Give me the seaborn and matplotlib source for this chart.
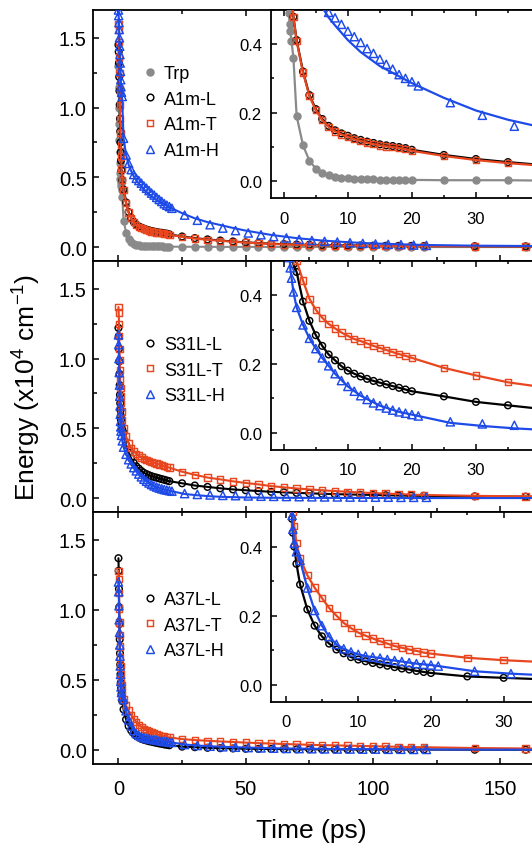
import matplotlib
matplotlib.use("Agg")
import matplotlib.pyplot as plt
import seaborn as sns
from matplotlib.lines import Line2D
from matplotlib.ticker import MultipleLocator

# ---------------- data ----------------
# time grid of the L / T / Trp series (ps)
T = [0.0, 0.1, 0.2, 0.3, 0.4, 0.5, 0.6, 0.7, 0.8, 0.9, 1.0, 1.2, 1.5,
     2, 3, 4, 5, 6, 7, 8, 9, 10, 11, 12, 13, 14, 15, 16, 17, 18, 19, 20,
     25, 30, 35, 40, 45, 50, 55, 60, 65, 70, 75, 80, 85, 90, 95, 100,
     105, 110, 115, 120, 140, 160]
# time grid of the H series (ps)
TH = [0.0, 0.1, 0.2, 0.3, 0.4, 0.5, 0.6, 0.7, 0.8, 0.9, 1.0, 1.2, 1.5,
      2, 3, 4, 5, 6, 7, 8, 9, 10, 11, 12, 13, 14, 15, 16, 17, 18, 19, 20, 21,
      26, 31, 36, 41, 46, 51, 56, 61, 66, 71, 76, 81, 86, 91, 96, 101,
      106, 111, 116, 121]
T_TAIL = [175]
TH_TAIL = [140, 175]

trp = [1.30, 1.15, 1.00, 0.88, 0.77, 0.68, 0.60, 0.53, 0.49, 0.46, 0.44, 0.41, 0.36,
       0.190, 0.104, 0.059, 0.036, 0.024, 0.017, 0.012, 0.009, 0.008, 0.007, 0.006,
       0.005, 0.005, 0.004, 0.004, 0.004, 0.003, 0.003, 0.003,
       0.002, 0.002, 0.002, 0.001, 0.001, 0.001, 0.001, 0.001, 0.001, 0.001, 0.001,
       0.001, 0.001, 0.001, 0.001, 0.0, 0.0, 0.0, 0.0, 0.0, 0.0, 0.0]
trp_tail = [0.0]

a1m_l = [1.45, 1.40, 1.32, 1.22, 1.12, 1.02, 0.92, 0.83, 0.75, 0.68, 0.62, 0.55, 0.48,
         0.412, 0.320, 0.251, 0.210, 0.181, 0.161, 0.148, 0.139, 0.132, 0.125, 0.120,
         0.115, 0.111, 0.107, 0.104, 0.102, 0.099, 0.096, 0.091,
         0.076, 0.064, 0.055, 0.047, 0.040, 0.034, 0.029, 0.024, 0.021, 0.018, 0.016,
         0.014, 0.013, 0.012, 0.011, 0.010, 0.009, 0.008, 0.008, 0.007, 0.006, 0.005]
a1m_l_tail = [0.004]

a1m_t = [1.60, 1.56, 1.47, 1.36, 1.25, 1.13, 1.02, 0.92, 0.82, 0.73, 0.65, 0.56, 0.48,
         0.409, 0.317, 0.248, 0.207, 0.178, 0.158, 0.145, 0.136, 0.129, 0.122, 0.117,
         0.112, 0.108, 0.104, 0.101, 0.099, 0.096, 0.093, 0.088,
         0.073, 0.061, 0.052, 0.045, 0.038, 0.032, 0.027, 0.022, 0.019, 0.016, 0.014,
         0.012, 0.011, 0.010, 0.009, 0.008, 0.007, 0.007, 0.006, 0.006, 0.005, 0.004]
a1m_t_tail = [0.0035]

a1m_h = [1.70, 1.66, 1.61, 1.56, 1.50, 1.44, 1.38, 1.32, 1.26, 1.20, 1.15, 1.11, 1.08,
         0.78, 0.66, 0.60, 0.555, 0.52, 0.493, 0.477, 0.458, 0.438, 0.422, 0.405,
         0.387, 0.373, 0.356, 0.341, 0.327, 0.311, 0.300, 0.290, 0.278,
         0.229, 0.192, 0.160, 0.136, 0.118, 0.101, 0.088, 0.075, 0.065, 0.055, 0.047,
         0.041, 0.036, 0.031, 0.026, 0.022, 0.019, 0.017, 0.014, 0.012]
# fitted curve of A1m-H
fit_a1m_h_t = [0.0, 0.5, 1.0, 1.5, 2, 3, 4, 5, 6, 7, 8, 10, 12, 15, 20, 25, 30, 35,
               40, 45, 50, 60, 70, 80, 90, 100, 120, 140, 175]
fit_a1m_h = [1.70, 1.44, 1.15, 1.05, 0.78, 0.66, 0.59, 0.545, 0.508, 0.478, 0.455,
             0.412, 0.377, 0.336, 0.286, 0.243, 0.206, 0.179, 0.158, 0.137, 0.118,
             0.087, 0.064, 0.047, 0.035, 0.026, 0.015, 0.010, 0.006]

s31l_l = [1.22, 1.16, 1.07, 0.98, 0.89, 0.81, 0.74, 0.68, 0.63, 0.59, 0.56, 0.52, 0.49,
          0.468, 0.382, 0.326, 0.284, 0.253, 0.228, 0.211, 0.194, 0.181, 0.172, 0.164,
          0.157, 0.151, 0.146, 0.141, 0.136, 0.131, 0.126, 0.121,
          0.106, 0.090, 0.080, 0.070, 0.062, 0.056, 0.050, 0.045, 0.041, 0.037, 0.034,
          0.031, 0.028, 0.026, 0.024, 0.022, 0.020, 0.018, 0.017, 0.016, 0.012, 0.010]
s31l_l_tail = [0.008]

s31l_t = [1.37, 1.33, 1.25, 1.16, 1.07, 0.99, 0.92, 0.85, 0.79, 0.73, 0.68, 0.62, 0.56,
          0.500, 0.443, 0.390, 0.358, 0.335, 0.317, 0.304, 0.292, 0.282, 0.273, 0.267,
          0.260, 0.253, 0.247, 0.241, 0.235, 0.229, 0.224, 0.218,
          0.189, 0.167, 0.147, 0.134, 0.120, 0.108, 0.098, 0.086, 0.077, 0.069, 0.062,
          0.056, 0.050, 0.045, 0.040, 0.036, 0.032, 0.029, 0.025, 0.022, 0.016, 0.012]
s31l_t_tail = [0.010]

s31l_h = [1.17, 1.10, 1.00, 0.90, 0.81, 0.73, 0.66, 0.60, 0.55, 0.51, 0.48, 0.45, 0.41,
          0.365, 0.314, 0.275, 0.245, 0.218, 0.195, 0.172, 0.152, 0.135, 0.121, 0.108,
          0.097, 0.087, 0.079, 0.072, 0.066, 0.061, 0.057, 0.053, 0.049,
          0.032, 0.026, 0.022, 0.019, 0.017, 0.015, 0.013, 0.012, 0.011, 0.010, 0.009,
          0.008, 0.008, 0.007, 0.007, 0.006, 0.006, 0.005, 0.005, 0.005]
# fitted curve of S31L-H
fit_s31l_h_t = [0.0, 0.5, 1.0, 1.5, 2, 3, 4, 5, 6, 8, 10, 12, 15, 18, 21, 26, 31, 36,
                40, 50, 60, 80, 120, 175]
fit_s31l_h = [1.17, 0.73, 0.48, 0.41, 0.365, 0.314, 0.275, 0.245, 0.218, 0.172, 0.135,
              0.108, 0.079, 0.061, 0.049, 0.029, 0.020, 0.013, 0.009, 0.004, 0.002,
              0.001, 0.0, 0.0]

a37l_l = [1.37, 1.28, 1.15, 1.02, 0.90, 0.79, 0.69, 0.61, 0.54, 0.48, 0.44, 0.40, 0.35,
          0.290, 0.218, 0.171, 0.140, 0.119, 0.102, 0.091, 0.080, 0.073, 0.068, 0.063,
          0.059, 0.055, 0.051, 0.047, 0.044, 0.040, 0.037, 0.034,
          0.024, 0.020, 0.016, 0.013, 0.011, 0.009, 0.008, 0.007, 0.006, 0.005, 0.005,
          0.004, 0.004, 0.004, 0.003, 0.003, 0.003, 0.003, 0.003, 0.003, 0.002, 0.002]
a37l_l_tail = [0.002]

a37l_t = [1.28, 1.22, 1.12, 1.01, 0.91, 0.82, 0.74, 0.66, 0.60, 0.54, 0.50, 0.46, 0.41,
          0.366, 0.317, 0.281, 0.251, 0.222, 0.200, 0.179, 0.164, 0.151, 0.142, 0.134,
          0.126, 0.119, 0.112, 0.107, 0.102, 0.098, 0.093, 0.090,
          0.078, 0.071, 0.066, 0.061, 0.057, 0.053, 0.049, 0.046, 0.043, 0.040, 0.037,
          0.035, 0.033, 0.031, 0.029, 0.027, 0.025, 0.023, 0.021, 0.020, 0.014, 0.011]
a37l_t_tail = [0.009]

a37l_h = [1.20, 1.13, 1.03, 0.93, 0.84, 0.75, 0.67, 0.60, 0.54, 0.49, 0.45, 0.41, 0.385,
          0.360, 0.280, 0.215, 0.171, 0.139, 0.117, 0.104, 0.095, 0.088, 0.083, 0.080,
          0.077, 0.073, 0.070, 0.067, 0.064, 0.061, 0.059, 0.057, 0.054,
          0.039, 0.032, 0.027, 0.023, 0.020, 0.017, 0.015, 0.013, 0.011, 0.010, 0.009,
          0.008, 0.007, 0.007, 0.006, 0.006, 0.005, 0.005, 0.004, 0.004]
a37l_h_tail = [0.003, 0.002]

labels1 = ["Trp", "A1m-L", "A1m-T", "A1m-H"]
labels2 = ["S31L-L", "S31L-T", "S31L-H"]
labels3 = ["A37L-L", "A37L-T", "A37L-H"]

y_ticks = [0.0, 0.5, 1.0, 1.5]
x_ticks = [0, 50, 100, 150]
inset_y_ticks = [0.0, 0.2, 0.4]
inset_x_ticks = [0, 10, 20, 30]

# ---------------- style ----------------
GRAY = "#8a8a8a"
BLACK = "#000000"
RED = "#e8461e"
BLUE = "#1e4be8"

STYLES = {
    "trp": dict(marker="o", fc=GRAY, ec=GRAY, ms=5.0, lc=GRAY),
    "L": dict(marker="o", fc="none", ec=BLACK, ms=4.8, lc=BLACK),
    "T": dict(marker="s", fc="none", ec=RED, ms=4.6, lc=RED),
    "H": dict(marker="^", fc="none", ec=BLUE, ms=5.9, lc=BLUE),
}

sns.set_theme(style="ticks")
plt.rcParams["font.family"] = ["Liberation Sans", "DejaVu Sans"]
plt.rcParams.update({
    "mathtext.fontset": "custom",
    "mathtext.rm": "Liberation Sans",
    "mathtext.it": "Liberation Sans:italic",
    "mathtext.bf": "Liberation Sans:bold",
    "mathtext.default": "regular",
    "axes.linewidth": 1.3,
    "axes.edgecolor": "black",
    "text.color": "black",
    "axes.labelcolor": "black",
    "xtick.color": "black",
    "ytick.color": "black",
    "xtick.labelcolor": "black",
    "ytick.labelcolor": "black",
})

W, H = 532, 845
fig = plt.figure(figsize=(W / 100, H / 100), dpi=100)


def add_px_axes(left, top, right, bottom):
    return fig.add_axes([left / W, 1 - bottom / H, (right - left) / W, (bottom - top) / H])


X0_PX = 93
X_SCALE = 2.545  # px per ps in the main axes
MAIN_RIGHT = X0_PX + 210 * X_SCALE
PANEL_PX = [(11, 262), (262, 513), (513, 765)]
INSET_PX = [(11, 199), (262, 451), (513, 703)]
INSET_XLIM = [(-2, 50), (-2, 50), (-2, 43.8)]
LEGEND_TOP = [66.0, 337.0, 592.0]
LEGEND_LEFT = 143.0

panels = [
    [("trp", T, trp, T + T_TAIL, trp + trp_tail),
     ("L", T, a1m_l, T + T_TAIL, a1m_l + a1m_l_tail),
     ("T", T, a1m_t, T + T_TAIL, a1m_t + a1m_t_tail),
     ("H", TH, a1m_h, fit_a1m_h_t, fit_a1m_h)],
    [("L", T, s31l_l, T + T_TAIL, s31l_l + s31l_l_tail),
     ("T", T, s31l_t, T + T_TAIL, s31l_t + s31l_t_tail),
     ("H", TH, s31l_h, fit_s31l_h_t, fit_s31l_h)],
    [("L", T, a37l_l, T + T_TAIL, a37l_l + a37l_l_tail),
     ("T", T, a37l_t, T + T_TAIL, a37l_t + a37l_t_tail),
     ("H", TH, a37l_h, TH + TH_TAIL, a37l_h + a37l_h_tail)],
]
panel_labels = [labels1, labels2, labels3]


def draw_series(ax, series, lw):
    for i, (key, t, y, lt, ly) in enumerate(series):
        st = STYLES[key]
        sns.lineplot(x=lt, y=ly, ax=ax, color=st["lc"], lw=lw, estimator=None,
                     sort=False, legend=False, zorder=2 + 2 * i)
        sns.scatterplot(x=t, y=y, ax=ax, marker=st["marker"], s=st["ms"] ** 2,
                        facecolor=st["fc"], edgecolor=st["ec"], linewidth=1.05,
                        legend=False, zorder=3 + 2 * i)


main_axes = []
for p, (top, bottom) in enumerate(PANEL_PX):
    ax = add_px_axes(X0_PX, top, MAIN_RIGHT, bottom)
    main_axes.append(ax)
    draw_series(ax, panels[p], 1.5)
    ax.set_xlim(-10, 200)
    ax.set_ylim(-0.1, 1.7)
    ax.set_xticks(x_ticks)
    ax.set_yticks(y_ticks)
    ax.set_yticklabels([f"{v:.1f}" for v in y_ticks])
    ax.xaxis.set_minor_locator(MultipleLocator(25))
    ax.yaxis.set_minor_locator(MultipleLocator(0.25))
    ax.tick_params(which="both", direction="in", top=True, right=True,
                   width=1.1, color="black", labelcolor="black")
    ax.tick_params(which="major", length=4.2)
    ax.tick_params(which="minor", length=2.6)
    ax.tick_params(axis="y", labelsize=14.5, pad=4.5)
    ax.tick_params(axis="x", labelsize=14.5, pad=11, labelbottom=(p == 2))
    ax.set_xlabel("")
    ax.set_ylabel("")
    for sp in ax.spines.values():
        sp.set_linewidth(1.3)

    handles = []
    for key, *_ in panels[p]:
        st = STYLES[key]
        handles.append(Line2D([], [], ls="none", marker=st["marker"], ms=st["ms"],
                              mfc=st["fc"], mec=st["ec"], mew=1.05))
    ax.legend(handles, panel_labels[p], loc="upper left",
              bbox_to_anchor=(LEGEND_LEFT / W, 1 - LEGEND_TOP[p] / H),
              bbox_transform=fig.transFigure, frameon=False, fontsize=13,
              handlelength=0.75, handletextpad=0.4, labelspacing=0.48,
              borderpad=0, borderaxespad=0)

    # inset
    itop, ibot = INSET_PX[p]
    ins = add_px_axes(271, itop, 604, ibot)
    ins.set_facecolor("white")
    draw_series(ins, panels[p], 1.6)
    ins.set_xlim(*INSET_XLIM[p])
    ins.set_ylim(-0.05, 0.5)
    ins.set_xticks(inset_x_ticks)
    ins.set_yticks(inset_y_ticks)
    ins.set_yticklabels([f"{v:.1f}" for v in inset_y_ticks])
    ins.xaxis.set_minor_locator(MultipleLocator(5))
    ins.yaxis.set_minor_locator(MultipleLocator(0.1))
    ins.tick_params(which="both", direction="in", top=True, right=True,
                    width=1.1, color="black", labelcolor="black")
    ins.tick_params(which="major", length=4.0)
    ins.tick_params(which="minor", length=2.4)
    ins.tick_params(axis="x", labelsize=12, pad=9)
    ins.tick_params(axis="y", labelsize=12, pad=6.5)
    ins.set_xlabel("")
    ins.set_ylabel("")
    for sp in ins.spines.values():
        sp.set_linewidth(1.3)

ax2 = main_axes[1]
ax2.set_ylabel(r"Energy (x10$^{4}$ cm$^{-1}$)", fontsize=19)
ax2.yaxis.label.set_va("center")
ax2.yaxis.set_label_coords((27 - X0_PX) / (MAIN_RIGHT - X0_PX), 0.5)

ax3 = main_axes[2]
ax3.set_xlabel("Time (ps)", fontsize=19)
ax3.xaxis.label.set_va("baseline")
ax3.xaxis.set_label_coords((311.7 - X0_PX) / (MAIN_RIGHT - X0_PX), -(838.3 - 765) / 252)

fig.savefig("out.png", dpi=100)
